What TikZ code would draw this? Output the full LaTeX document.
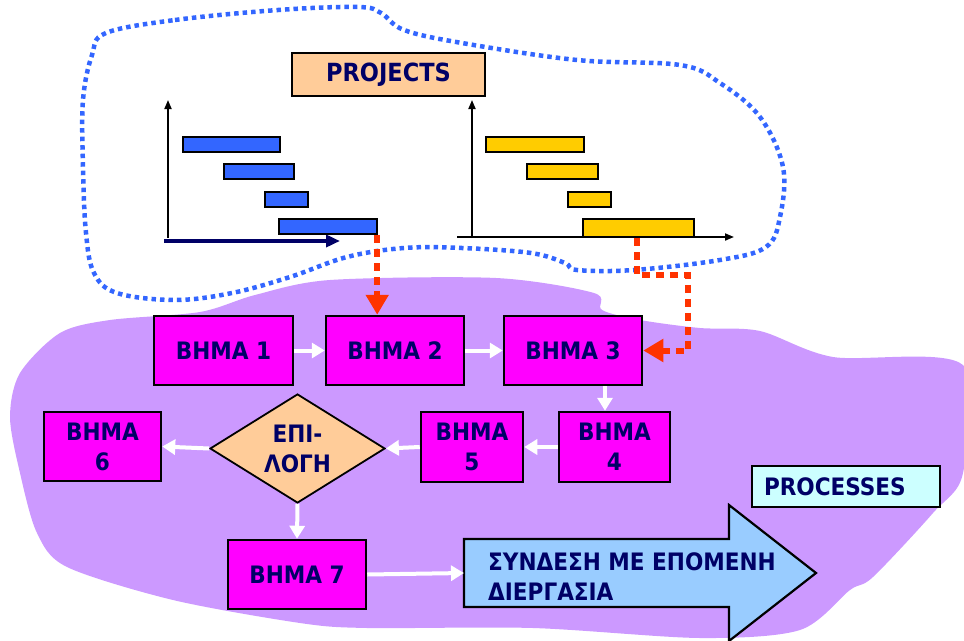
\documentclass[tikz,border=0pt]{standalone}
\usepackage{fontspec}
\setmainfont{DejaVu Sans Condensed}
\usetikzlibrary{arrows.meta,shapes.geometric}
\definecolor{navy}{HTML}{000066}
\definecolor{lilac}{HTML}{CC99FF}
\definecolor{stepfill}{HTML}{FF00FF}
\definecolor{peach}{HTML}{FFCC99}
\definecolor{barblue}{HTML}{3366FF}
\definecolor{baryellow}{HTML}{FFCC00}
\definecolor{cloudblue}{HTML}{3366FF}
\definecolor{linkred}{HTML}{FF3300}
\definecolor{skyblue}{HTML}{99CCFF}
\definecolor{paleaqua}{HTML}{CCFFFF}

\begin{document}
\begin{tikzpicture}[x=1pt,y=-1pt,
  every node/.style={font=\fontsize{24}{30}\selectfont\bfseries, text=navy},
  stepbox/.style={draw=black, line width=2.5pt, fill=stepfill, inner sep=0pt,
                  minimum width=139pt, minimum height=69pt, align=center},
  choice/.style={diamond, draw=black, line width=1.8pt, fill=peach, inner sep=0pt,
                 shape aspect=1.6, minimum width=175pt, minimum height=109pt, align=center},
  labelbox/.style={draw=black, line width=2.2pt, inner sep=0pt},
  bar/.style={draw=black, line width=2.2pt, inner sep=0pt, anchor=north west},
  bluebar/.style={bar, fill=barblue},
  yellowbar/.style={bar, fill=baryellow},
  axis/.style={draw=black, line width=1.8pt, -{Triangle[length=9pt,width=7pt]}},
  timeaxis/.style={draw=navy, line width=3.5pt, -{Triangle[length=14pt,width=12pt]}},
  wharrow/.style={draw=white, line width=4pt, -{Triangle[length=13pt,width=15pt]}},
  reddash/.style={draw=linkred, line width=6pt, dash pattern=on 8pt off 6pt,
                  -{Triangle[length=20pt,width=22pt]}},
  cloudline/.style={draw=cloudblue, line width=4.5pt, dash pattern=on 4.5pt off 4pt}
]
\useasboundingbox (0,0) rectangle (964,640);

% process area
\fill[lilac] plot[smooth cycle, tension=0.5] coordinates {
  (110,320) (200,312) (255,295) (330,280) (496,278) (594,293) (602,310)
  (640,320) (700,328) (760,331) (833,357) (963,365) (963,473) (933,513)
  (873,577) (850,590) (800,630) (700,638) (533,628) (367,628) (300,623)
  (173,600) (67,567) (37,533) (20,473) (10,417) (20,373) (60,333)};

% project area outline
\draw[cloudline] plot[smooth cycle, tension=0.6] coordinates {
  (106,33) (175,20) (278,10) (358,7) (381,13) (404,30) (462,43) (577,60)
  (680,65) (720,83) (760,117) (783,167) (780,217) (766,247) (720,260)
  (634,270) (577,270) (565,263) (531,253) (462,248) (404,248) (347,257)
  (290,277) (232,293) (175,300) (117,293) (94,273) (86,233) (83,167)
  (83,100) (92,55)};

\node[labelbox, fill=peach, minimum width=193pt, minimum height=43pt,
      font=\fontsize{25}{30}\selectfont\bfseries] (proj) at (388.5,74.5) {PROJECTS};

% first schedule
\draw[axis] (168,238) -- (168,100);
\draw[timeaxis] (164,241) -- (340,241);
\node[bluebar, minimum width=97pt, minimum height=15pt] (lb1) at (182,136) {};
\node[bluebar, minimum width=70pt, minimum height=15pt] (lb2) at (223,163) {};
\node[bluebar, minimum width=43pt, minimum height=15pt] (lb3) at (264,191) {};
\node[bluebar, minimum width=98pt, minimum height=15pt] (lb4) at (278,218) {};

% second schedule
\draw[axis] (472,238) -- (472,100);
\draw[axis] (457,237) -- (734,237);
\node[yellowbar, minimum width=98pt, minimum height=15pt] (rb1) at (485,136) {};
\node[yellowbar, minimum width=71pt, minimum height=15pt] (rb2) at (526,163) {};
\node[yellowbar, minimum width=43pt, minimum height=15pt] (rb3) at (567,191) {};
\node[yellowbar, minimum width=111pt, minimum height=18pt] (rb4) at (582,218) {};

% process steps
\node[stepbox] (b1) at (223.5,350.5) {ΒΗΜΑ 1};
\node[stepbox, minimum width=138pt] (b2) at (395,350.5) {ΒΗΜΑ 2};
\node[stepbox, minimum width=138pt] (b3) at (573,350.5) {ΒΗΜΑ 3};
\node[stepbox, minimum width=111pt, minimum height=70pt] (b4) at (614.5,447) {ΒΗΜΑ\\4};
\node[stepbox, minimum width=102pt, minimum height=70pt] (b5) at (472,447) {ΒΗΜΑ\\5};
\node[choice] (dia) at (297.5,448.5) {ΕΠΙ-\\ΛΟΓΗ};
\node[stepbox, minimum width=117pt] (b6) at (102.5,446.5) {ΒΗΜΑ\\6};
\node[stepbox, minimum width=138pt] (b7) at (297,574.5) {ΒΗΜΑ 7};

% link to the next process
\draw[draw=black, line width=2.2pt, fill=skyblue]
  (464,539) -- (729,539) -- (729,505) -- (816,573) -- (729,641) -- (729,607)
  -- (464,607) -- cycle;
\node[minimum width=265pt, minimum height=68pt, inner sep=0pt, anchor=west] (nxt) at (464,573) {};
\node[anchor=west, align=left, inner sep=0pt] (nxtlabel) at (488,577)
  {ΣΥΝΔΕΣΗ ΜΕ ΕΠΟΜΕΝΗ\\ΔΙΕΡΓΑΣΙΑ};

\node[labelbox, fill=paleaqua, text width=164pt, align=left, inner xsep=12pt,
      minimum height=41pt] (proc) at (846,486.5) {PROCESSES};

% step flow
\draw[wharrow] (b1.east) -- (b2.west);
\draw[wharrow] (b2.east) -- (b3.west);
\draw[wharrow] ([xshift=-9.5pt]b4.north |- b3.south) -- ([xshift=-9.5pt]b4.north);
\draw[wharrow] (b4.west) -- (b5.east);
\draw[wharrow] (b5.west) -- (dia.east);
\draw[wharrow] (dia.west) -- (b6.east);
\draw[wharrow] (dia.south) -- (b7.north);
\draw[wharrow] (b7.east) -- (nxt.west);

% schedules feeding the steps
\draw[reddash] ([xshift=-1pt]lb4.south east) -- ([xshift=-1pt]lb4.south east |- b2.north);
\coordinate (turn) at (688,275);
\draw[reddash] ([xshift=-2pt]rb4.south) |- (turn) |- (b3.east);
\end{tikzpicture}
\end{document}
